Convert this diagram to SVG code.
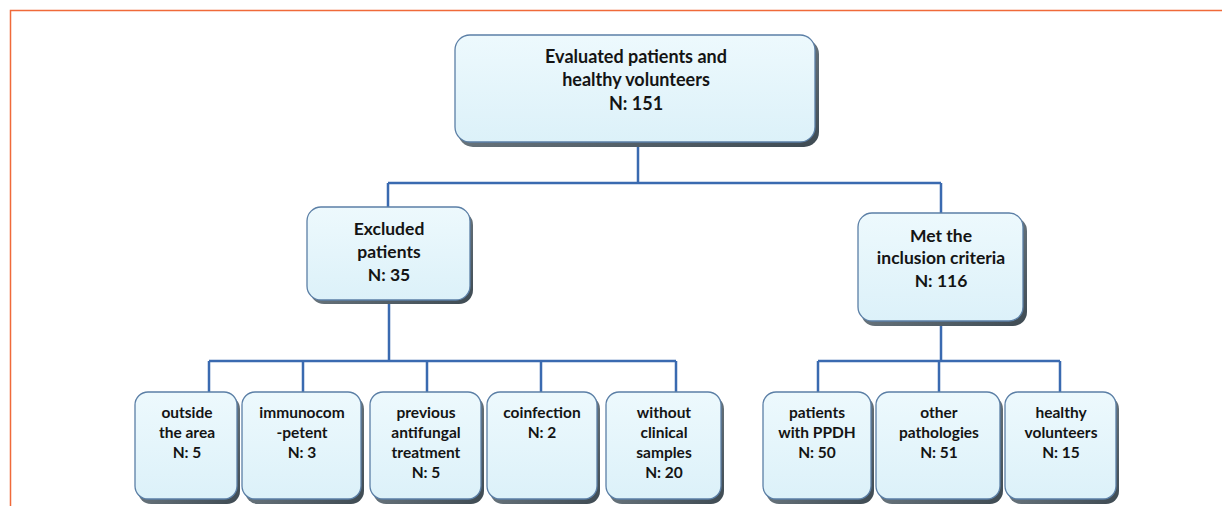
<svg xmlns="http://www.w3.org/2000/svg" width="1222" height="506" viewBox="0 0 1222 506">
<defs>
<linearGradient id="fill" x1="0" y1="0" x2="0" y2="1">
<stop offset="0" stop-color="#EDF9FD"/>
<stop offset="1" stop-color="#DCF1F9"/>
</linearGradient>
<linearGradient id="shade" x1="0" y1="0" x2="1" y2="1">
<stop offset="0" stop-color="#8C98A0"/>
<stop offset="1" stop-color="#3E4A52"/>
</linearGradient>
</defs>
<style>
.sh{fill:url(#shade);}
.bx{fill:url(#fill);stroke:#5B7FA6;stroke-width:1.3;}
.t{font-family:Lato,"Open Sans","Liberation Sans",sans-serif;font-weight:bold;fill:#141414;text-anchor:middle;}
.t1{font-size:18px;}
.t2{font-size:17.5px;}
.t3{font-size:15.5px;}
.c{fill:none;stroke:#3A6AB0;stroke-width:2.5;}
</style>
<rect x="0" y="0" width="1222" height="506" fill="#FFFFFF"/>
<path d="M10.5 506 V10.5 H1222" fill="none" stroke="#F06A3A" stroke-width="1.5"/>
<g id="connectors">
<path class="c" d="M638 143 V183 M388 183 H941 M388 183 V207 M941 183 V213"/>
<path class="c" d="M389 300 V361 M209 361 H676 M209 361 V392 M303 361 V392 M427 361 V392 M541 361 V392 M676 361 V392"/>
<path class="c" d="M941 322 V361 M818 361 H1060 M818 361 V392 M939 361 V392 M1060 361 V392"/>
</g>
<g id="n-top">
<rect class="sh" x="458" y="39" width="361" height="108" rx="15"/>
<rect class="bx" x="455" y="35" width="360" height="107" rx="15"/>
<text class="t t1" x="636" y="63">Evaluated patients and</text>
<text class="t t1" x="636" y="86">healthy volunteers</text>
<text class="t t1" x="636" y="110">N: 151</text>
</g>
<g id="n-excluded">
<rect class="sh" x="310" y="211" width="163" height="93" rx="14"/>
<rect class="bx" x="307" y="207" width="163" height="93" rx="14"/>
<text class="t t2" x="389" y="235">Excluded</text>
<text class="t t2" x="389" y="258">patients</text>
<text class="t t2" x="389" y="281">N: 35</text>
</g>
<g id="n-met">
<rect class="sh" x="861" y="217" width="166" height="109" rx="14"/>
<rect class="bx" x="858" y="213" width="165" height="108" rx="14"/>
<text class="t t2" x="941" y="242">Met the</text>
<text class="t t2" x="941" y="264">inclusion criteria</text>
<text class="t t2" x="941" y="287">N: 116</text>
</g>
<g id="n-outside">
<rect class="sh" x="138" y="396" width="102" height="108" rx="13"/>
<rect class="bx" x="135" y="392" width="102" height="107" rx="13"/>
<text class="t t3" x="187" y="418">outside</text>
<text class="t t3" x="187" y="438">the area</text>
<text class="t t3" x="187" y="458">N: 5</text>
</g>
<g id="n-immuno">
<rect class="sh" x="245" y="396" width="119" height="108" rx="13"/>
<rect class="bx" x="242" y="392" width="119" height="107" rx="13"/>
<text class="t t3" x="302" y="418">immunocom</text>
<text class="t t3" x="302" y="438">-petent</text>
<text class="t t3" x="302" y="458">N: 3</text>
</g>
<g id="n-previous">
<rect class="sh" x="373" y="396" width="111" height="108" rx="13"/>
<rect class="bx" x="370" y="392" width="111" height="107" rx="13"/>
<text class="t t3" x="426" y="418">previous</text>
<text class="t t3" x="426" y="438">antifungal</text>
<text class="t t3" x="426" y="458">treatment</text>
<text class="t t3" x="426" y="478">N: 5</text>
</g>
<g id="n-coinfection">
<rect class="sh" x="490" y="396" width="110" height="108" rx="13"/>
<rect class="bx" x="487" y="392" width="110" height="107" rx="13"/>
<text class="t t3" x="542" y="418">coinfection</text>
<text class="t t3" x="542" y="438">N: 2</text>
</g>
<g id="n-without">
<rect class="sh" x="609" y="396" width="115" height="108" rx="13"/>
<rect class="bx" x="606" y="392" width="115" height="107" rx="13"/>
<text class="t t3" x="664" y="418">without</text>
<text class="t t3" x="664" y="438">clinical</text>
<text class="t t3" x="664" y="458">samples</text>
<text class="t t3" x="664" y="478">N: 20</text>
</g>
<g id="n-ppdh">
<rect class="sh" x="766" y="396" width="108" height="108" rx="13"/>
<rect class="bx" x="763" y="392" width="108" height="107" rx="13"/>
<text class="t t3" x="817" y="418">patients</text>
<text class="t t3" x="817" y="438">with PPDH</text>
<text class="t t3" x="817" y="458">N: 50</text>
</g>
<g id="n-other">
<rect class="sh" x="879" y="396" width="124" height="108" rx="13"/>
<rect class="bx" x="876" y="392" width="124" height="107" rx="13"/>
<text class="t t3" x="939" y="418">other</text>
<text class="t t3" x="939" y="438">pathologies</text>
<text class="t t3" x="939" y="458">N: 51</text>
</g>
<g id="n-healthy">
<rect class="sh" x="1008" y="396" width="111" height="108" rx="13"/>
<rect class="bx" x="1005" y="392" width="111" height="107" rx="13"/>
<text class="t t3" x="1061" y="418">healthy</text>
<text class="t t3" x="1061" y="438">volunteers</text>
<text class="t t3" x="1061" y="458">N: 15</text>
</g>
</svg>
